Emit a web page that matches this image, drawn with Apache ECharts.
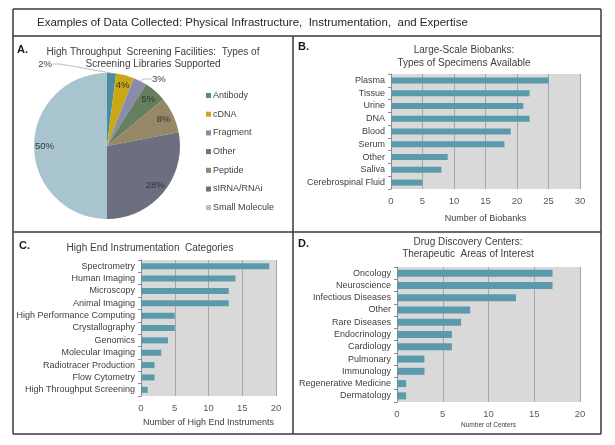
<!DOCTYPE html>
<html><head><meta charset="utf-8">
<script src="https://cdn.jsdelivr.net/npm/echarts@6/dist/echarts.min.js"></script>
<style>html,body{margin:0;padding:0;background:#fff}#c{width:615px;height:445px}</style>
</head><body><div id="c"></div>
<script>
// ---- Data ----
var pieNames = ['Antibody','cDNA','Fragment','Other','Peptide','sIRNA/RNAi','Small Molecule'];
var pieValues = [2,4,3,5,8,28,50];
var pieColors = ['#4B8C9E','#C9A715','#8A89AE','#66805F','#968766','#6B6F80','#A7C4CF'];

var bioCats = ['Plasma','Tissue','Urine','DNA','Blood','Serum','Other','Saliva','Cerebrospinal Fluid'];
var bioVals = [25,22,21,22,19,18,9,8,5];

var instCats = ['Spectrometry','Human Imaging','Microscopy','Animal Imaging','High Performance Computing','Crystallography','Genomics','Molecular Imaging','Radiotracer Production','Flow Cytometry','High Throughput Screening'];
var instVals = [19,14,13,13,5,5,4,3,2,2,1];

var drugCats = ['Oncology','Neuroscience','Infectious Diseases','Other','Rare Diseases','Endocrinology','Cardiology','Pulmonary','Immunology','Regenerative Medicine','Dermatology'];
var drugVals = [17,17,13,8,7,6,6,3,3,1,1];

// ---- Chart ----
var chart = echarts.init(document.getElementById('c'));
var FONT = '"Liberation Sans", Arial, sans-serif';
var barColor = '#5B9AAC';
var txt = '#404040';

function pieData(){
  return pieNames.map(function(n,i){ return {name:n, value:pieValues[i], itemStyle:{color:pieColors[i]}}; });
}
var outerIdx = [0,2];
var mainPie = pieData().map(function(d,i){
  d.label = {show: outerIdx.indexOf(i) >= 0};
  d.labelLine = {show: outerIdx.indexOf(i) >= 0};
  return d;
});
var innerPie = pieData().map(function(d,i){
  d.label = {show: outerIdx.indexOf(i) < 0};
  d.itemStyle = {color:'rgba(0,0,0,0)'};
  return d;
});

function catAxis(idx, cats){
  return {type:'category', gridIndex:idx, data:cats, inverse:true,
    axisLine:{show:true, lineStyle:{color:'#8C8C8C', width:1}},
    axisTick:{show:true, length:3, interval:0, lineStyle:{color:'#8C8C8C'}},
    axisLabel:{color:txt, fontSize:9, fontFamily:FONT, margin:6, interval:0}};
}
function valAxis(idx, max, name, nameSize, gap){
  return {type:'value', gridIndex:idx, min:0, max:max, interval:5,
    name:name, nameLocation:'middle', nameGap:gap,
    nameTextStyle:{color:txt, fontSize:nameSize, fontFamily:FONT},
    axisLine:{show:false}, axisTick:{show:false},
    axisLabel:{color:'#595959', fontSize:9.5, fontFamily:FONT, margin:7},
    splitLine:{show:true, lineStyle:{color:'#A6A6A6', width:1}}};
}

function ln(x1,y1,x2,y2){
  return {type:'line', silent:true, shape:{x1:x1,y1:y1,x2:x2,y2:y2}, style:{stroke:'#3A3A3A', lineWidth:1.5}};
}
function t(x,y,s,opt){
  opt = opt || {};
  return {type:'text', silent:true, style:{x:x, y:y, text:s, fill:opt.fill||txt, align:opt.align||'center', verticalAlign:'middle',
    font:(opt.bold?'bold ':'') + (opt.size||10) + 'px ' + FONT}};
}

var option = {
  animation:false,
  backgroundColor:'#fff',
  textStyle:{fontFamily:FONT},
  legend:{orient:'vertical', left:201, top:86, itemGap:9.7, itemWidth:5, itemHeight:5, icon:'rect',
    data:pieNames, textStyle:{color:txt, fontSize:9, fontFamily:FONT, padding:[0,0,0,-3]}},
  grid:[
    {left:391, right:35, top:74, height:115, show:true, backgroundColor:'#D9D9D9', borderWidth:0},
    {left:141, right:339, top:260, height:136, show:true, backgroundColor:'#D9D9D9', borderWidth:0},
    {left:397, right:35, top:267, height:135, show:true, backgroundColor:'#D9D9D9', borderWidth:0}
  ],
  yAxis:[catAxis(0,bioCats), catAxis(1,instCats), catAxis(2,drugCats)],
  xAxis:[valAxis(0,30,'Number of Biobanks',9,25), valAxis(1,20,'Number of High End Instruments',9,22), valAxis(2,20,'Number of Centers',6.5,20)],
  series:[
    {type:'pie', center:[107,146], radius:[0,73], startAngle:90, clockwise:true, silent:true,
      data:mainPie,
      label:{position:'outside', formatter:'{c}%', color:txt, fontSize:9.5, fontFamily:FONT},
      labelLine:{length:6, length2:8, lineStyle:{color:'#BFBFBF'}},
      labelLayout:function(p){
        if(p.dataIndex===0) return {x:52, y:64, align:'right', verticalAlign:'middle'};
        if(p.dataIndex===2) return {x:152, y:79, align:'left', verticalAlign:'middle'};
      }
    },
    {type:'pie', center:[107,146], radius:[46,73], startAngle:90, clockwise:true, silent:true,
      data:innerPie, labelLine:{show:false},
      label:{position:'inside', formatter:'{c}%', color:'#333', fontSize:9.5, fontFamily:FONT}},
    {type:'bar', xAxisIndex:0, yAxisIndex:0, data:bioVals, barWidth:6, itemStyle:{color:barColor}, silent:true},
    {type:'bar', xAxisIndex:1, yAxisIndex:1, data:instVals, barWidth:6, itemStyle:{color:barColor}, silent:true},
    {type:'bar', xAxisIndex:2, yAxisIndex:2, data:drugVals, barWidth:7, itemStyle:{color:barColor}, silent:true}
  ],
  graphic:[
    ln(13,9,601,9), ln(13,434,601,434), ln(13,9,13,434), ln(601,9,601,434),
    ln(13,36,601,36), ln(13,232,601,232), ln(293,36,293,434),
    t(37,23,'Examples of Data Collected: Physical Infrastructure,  Instrumentation,  and Expertise',{align:'left', size:11.5, fill:'#262626'}),
    t(17,50,'A.',{align:'left', bold:true, size:11, fill:'#1a1a1a'}),
    t(298,47,'B.',{align:'left', bold:true, size:11, fill:'#1a1a1a'}),
    t(19,246,'C.',{align:'left', bold:true, size:11, fill:'#1a1a1a'}),
    t(298,244,'D.',{align:'left', bold:true, size:11, fill:'#1a1a1a'}),
    t(153,52,'High Throughput  Screening Facilities:  Types of'),
    t(153,64,'Screening Libraries Supported'),
    t(464,50,'Large-Scale Biobanks:'),
    t(464,63,'Types of Specimens Available'),
    t(150,248,'High End Instrumentation  Categories'),
    t(468,242,'Drug Discovery Centers:'),
    t(468,254,'Therapeutic  Areas of Interest')
  ]
};
chart.setOption(option);
</script></body></html>
